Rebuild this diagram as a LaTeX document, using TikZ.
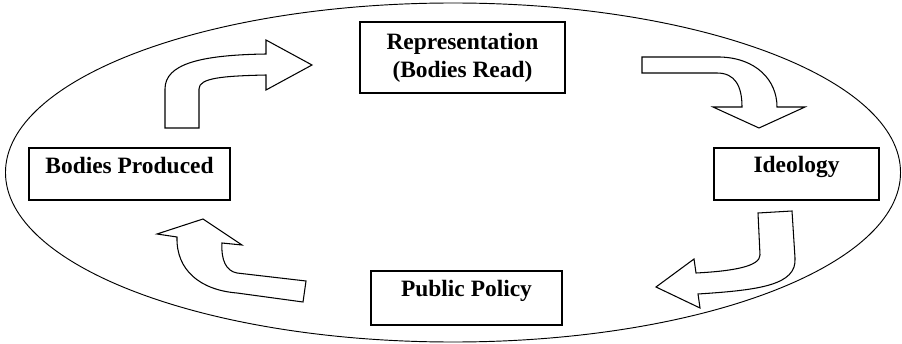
\documentclass[tikz,border=0pt]{standalone}
\usepackage{fontspec}
\setmainfont{Liberation Serif}
\usepackage{tikz}
\usetikzlibrary{calc,positioning}

\tikzset{
  box/.style = {draw, line width=1.3pt, inner sep=0pt},
  lbl/.style = {font=\fontsize{20}{24}\selectfont\bfseries, align=center, inner sep=0pt},
  blockarrow/.style = {draw, fill=white, line width=0.9pt, line join=miter}
}

\begin{document}
\begin{tikzpicture}[x=0.03cm, y=-0.03cm]
\useasboundingbox (0,0) rectangle (902,344);
% outer cycle
\draw[line width=0.8pt] (453,172.5) ellipse [x radius=13.425cm, y radius=5.085cm];

% boxes
\node[box, minimum width=6.15cm, minimum height=2.13cm] (rep) at (462.5,57.5) {};
\node[box, minimum width=4.95cm, minimum height=1.56cm] (ideo) at (796.5,174) {};
\node[box, minimum width=6.03cm, minimum height=1.56cm] (prod) at (129.5,174) {};
\node[box, minimum width=5.73cm, minimum height=1.62cm] (pol) at (466.5,298) {};

\node[lbl] (reptext) at (rep.center) {Representation\\(Bodies Read)};
\node[lbl] (ideotext) at ($(ideo.center)+(0,-7)$) {Ideology};
\node[lbl] (prodtext) at ($(prod.center)+(0,-8)$) {Bodies Produced};
\node[lbl] (poltext) at ($(pol.center)+(0,-7)$) {Public Policy};

% produced -> representation
\draw[blockarrow] (165,128) -- (165,89) .. controls (165,64) and (200,55) .. (266,54)
  -- (266,40) -- (312,65) -- (266,90) -- (266,75)
  .. controls (222,76) and (199,78) .. (199,89) -- (199,128) -- cycle;

% representation -> ideology
\draw[blockarrow] (642,57) -- (720,57) .. controls (756,58) and (777,80) .. (777,107)
  -- (805,107) -- (759,128) -- (713,107) -- (742,107)
  .. controls (742,86) and (735,73) .. (717,73) -- (642,73) -- cycle;

% ideology -> policy
\draw[blockarrow] (758,213) -- (792,211) -- (795,258)
  .. controls (797,285) and (760,290) .. (698,294)
  -- (700,308) -- (656,287) -- (694,259) -- (696,273)
  .. controls (735,271) and (760,266) .. (760,255) -- cycle;

% policy -> produced
\draw[blockarrow] (306,281) -- (237,273) .. controls (226,271) and (221,260) .. (222,243)
  -- (242,245) -- (203,219) -- (157,234) -- (177,237)
  .. controls (176,270) and (200,290) .. (237,293) -- (303,302) -- cycle;
\end{tikzpicture}
\end{document}
